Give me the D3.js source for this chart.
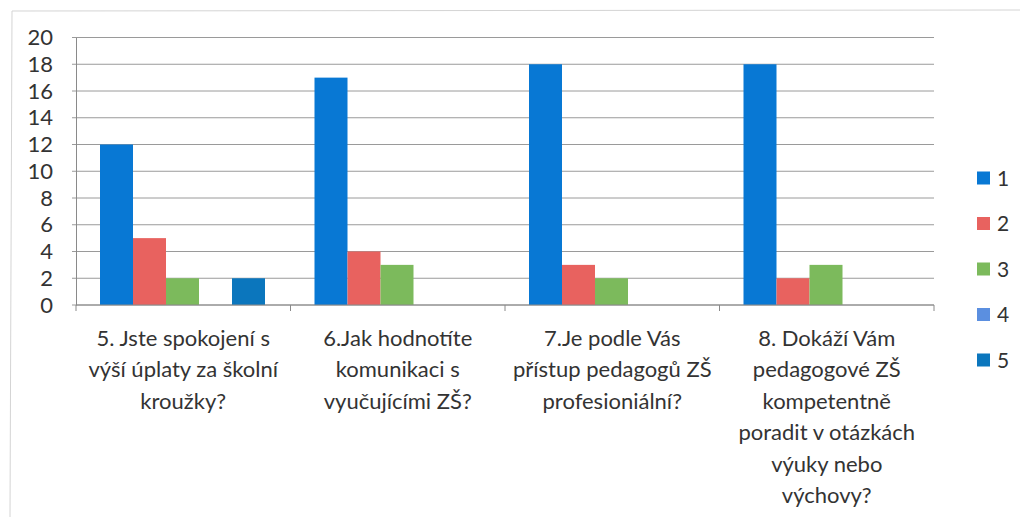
<!DOCTYPE html>
<html>
<head>
    <meta charset="utf-8">
    <title>Bar Chart</title>
    <script src="https://d3js.org/d3.v7.min.js"></script>
    <style>
        body { margin: 0; background: #fff; }
        text { font-family: Lato, "Open Sans", sans-serif; fill: #333; }
    </style>
</head>
<body>
    <div id="chart"></div>
    <script>
        // categories (x axis labels, already broken into lines)
        var categories = ["q5", "q6", "q7", "q8"];
        var categoryLines = [
            ["5. Jste spokojení s", "výší úplaty za školní", "kroužky?"],
            ["6.Jak hodnotíte", "komunikaci s", "vyučujícími ZŠ?"],
            ["7.Je podle Vás", "přístup pedagogů ZŠ", "profesioniální?"],
            ["8. Dokáží Vám", "pedagogové ZŠ", "kompetentně", "poradit v otázkách", "výuky nebo", "výchovy?"]
        ];
        var seriesNames = ["1", "2", "3", "4", "5"];
        var series1 = [12, 17, 18, 18];
        var series2 = [5, 4, 3, 2];
        var series3 = [2, 3, 2, 3];
        var series4 = [0, 0, 0, 0];
        var series5 = [2, 0, 0, 0];
        var yTicks = [0, 2, 4, 6, 8, 10, 12, 14, 16, 18, 20];

        var colors = ["#0878d4", "#e8625f", "#7cba5c", "#5b8fe0", "#0b76bd"];
        var allSeries = [series1, series2, series3, series4, series5];

        var width = 1025, height = 517;
        var plot = { left: 76, right: 934, top: 37.5, bottom: 305 };

        var svg = d3.select("#chart")
            .append("svg")
            .attr("width", width)
            .attr("height", height);

        // scanned page frame
        svg.append("path")
            .attr("d", "M10,517 L12,11 L1020,10")
            .attr("fill", "none")
            .attr("stroke", "#d4d4d4")
            .attr("stroke-width", 1);

        var x0 = d3.scaleBand()
            .domain(categories)
            .range([plot.left, plot.right])
            .paddingInner(0)
            .paddingOuter(0);

        var x1 = d3.scaleBand()
            .domain(seriesNames)
            .range([24, x0.bandwidth() - 25.5]);

        var y = d3.scaleLinear()
            .domain([0, 20])
            .range([plot.bottom, plot.top]);

        // gridlines
        svg.append("g")
            .selectAll("line")
            .data(yTicks)
            .enter()
            .append("line")
            .attr("x1", plot.left - 4)
            .attr("x2", plot.right)
            .attr("y1", function(d) { return y(d); })
            .attr("y2", function(d) { return y(d); })
            .attr("stroke", "#9a9a9a")
            .attr("stroke-width", 1);

        // y axis
        var yAxis = svg.append("g")
            .attr("transform", "translate(" + plot.left + ",0)")
            .call(d3.axisLeft(y).tickValues(yTicks).tickSize(0).tickPadding(23));
        yAxis.select(".domain").attr("stroke", "#8a8a8a");
        yAxis.selectAll("text")
            .style("font-family", "Lato, 'Open Sans', sans-serif")
            .style("font-size", "22px")
            .attr("fill", "#333");

        // bars
        var groups = svg.append("g")
            .selectAll("g")
            .data(categories)
            .enter()
            .append("g")
            .attr("transform", function(d) { return "translate(" + x0(d) + ",0)"; });

        groups.selectAll("rect")
            .data(function(d, i) {
                return allSeries.map(function(s, j) {
                    return { name: seriesNames[j], value: s[i], color: colors[j] };
                });
            })
            .enter()
            .append("rect")
            .attr("x", function(d) { return x1(d.name); })
            .attr("width", x1.bandwidth())
            .attr("y", function(d) { return y(d.value); })
            .attr("height", function(d) { return y(0) - y(d.value); })
            .attr("fill", function(d) { return d.color; });

        // x axis
        var xAxis = svg.append("g")
            .attr("transform", "translate(0," + plot.bottom + ")");
        xAxis.append("line")
            .attr("x1", plot.left)
            .attr("x2", plot.right)
            .attr("stroke", "#8a8a8a");
        xAxis.selectAll(".tick")
            .data(categories.concat(["end"]))
            .enter()
            .append("line")
            .attr("x1", function(d) { return d === "end" ? plot.right : x0(d); })
            .attr("x2", function(d) { return d === "end" ? plot.right : x0(d); })
            .attr("y1", 0)
            .attr("y2", 6)
            .attr("stroke", "#8a8a8a");

        xAxis.selectAll(".cat")
            .data(categories)
            .enter()
            .append("text")
            .attr("class", "cat")
            .attr("text-anchor", "middle")
            .style("font-size", "22px")
            .attr("transform", function(d) {
                return "translate(" + (x0(d) + x0.bandwidth() / 2) + ",0)";
            })
            .selectAll("tspan")
            .data(function(d, i) { return categoryLines[i]; })
            .enter()
            .append("tspan")
            .attr("x", 0)
            .attr("y", function(d, i) { return 41 + i * 31.4; })
            .text(function(d) { return d; });

        // legend
        var legend = svg.append("g")
            .selectAll("g")
            .data(seriesNames)
            .enter()
            .append("g")
            .attr("transform", function(d, i) { return "translate(977," + (178 + i * 45.5) + ")"; });

        legend.append("rect")
            .attr("x", 0)
            .attr("y", -6.5)
            .attr("width", 13)
            .attr("height", 13)
            .attr("fill", function(d, i) { return colors[i]; });

        legend.append("text")
            .attr("x", 20)
            .attr("y", 7.5)
            .style("font-size", "21px")
            .text(function(d) { return d; });
    </script>
</body>
</html>
